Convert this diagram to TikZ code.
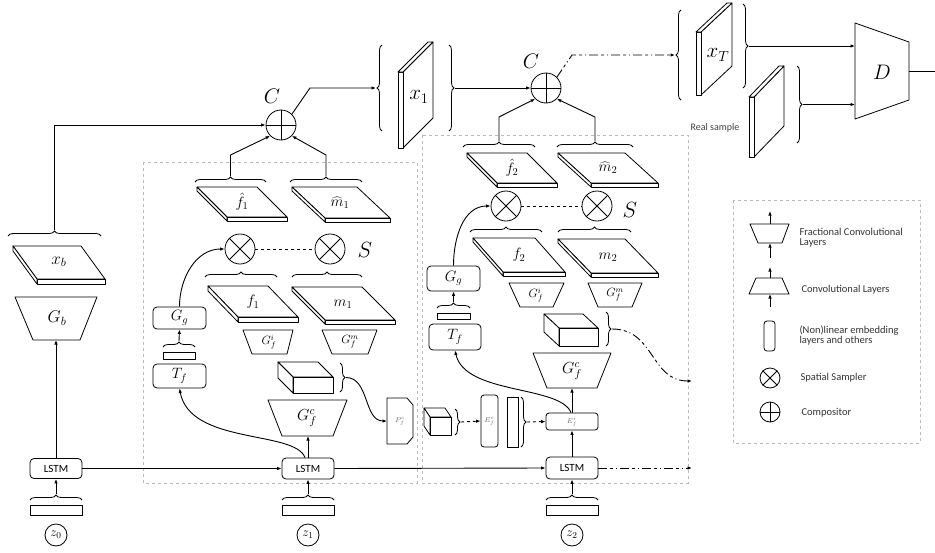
\RequirePackage{fix-cm}
\documentclass[tikz,border=0pt]{standalone}
\usepackage{fontspec}
\newfontfamily\carl{Carlito}
\usetikzlibrary{arrows.meta,decorations.pathreplacing,calc}
\newcommand{\fs}[1]{\fontsize{#1}{#1}\selectfont}
\newcommand{\slab}[6]{%
 \draw[shp] (#1,#2) -- ({#1+#3},#2) -- ({#1+#3+#4},{#2+#5}) -- ({#1+#4},{#2+#5}) -- cycle;
 \draw[shp] ({#1+#4},{#2+#5}) -- ({#1+#3+#4},{#2+#5}) -- ({#1+#3+#4},{#2+#5+#6}) -- ({#1+#4},{#2+#5+#6}) -- cycle;
 \draw[shp] (#1,#2) -- ({#1+#4},{#2+#5}) -- ({#1+#4},{#2+#5+#6}) -- (#1,{#2+#6}) -- cycle;}
\newcommand{\vslab}[6]{%
 \draw[shp] (#1,#3) -- (#2,#4) -- (#2,{#4+#5}) -- (#1,{#3+#5}) -- cycle;
 \draw[shp] ({#1-#6},#3) -- (#1,#3) -- (#1,{#3+#5}) -- ({#1-#6},{#3+#5}) -- cycle;
 \draw[shp] ({#1-#6},#3) -- ({#2-#6},#4) -- (#2,#4) -- (#1,#3) -- cycle;}
\newcommand{\cub}[6]{%
 \draw[shp] ({#1-#5},{#2-#6}) -- ({#1+#3-#5},{#2-#6}) -- ({#1+#3},#2) -- (#1,#2) -- cycle;
 \draw[shp] ({#1-#5},{#2-#6}) -- (#1,#2) -- (#1,{#2+#4}) -- ({#1-#5},{#2+#4-#6}) -- cycle;
 \draw[shp] (#1,#2) rectangle ({#1+#3},{#2+#4});}
\newcommand{\trap}[6]{\draw[shp] (#2,#1) -- (#3,#1) -- (#6,#4) -- (#5,#4) -- cycle;}
\newcommand{\hbr}[4]{\draw[brc] (#1,#3) -- (#2,#3); \coordinate (#4) at ({(#1+#2)/2},{#3-6});}
\newcommand{\rbr}[4]{\draw[brc] (#1,#2) -- (#1,#3); \coordinate (#4) at ({#1+6},{(#2+#3)/2});}
\newcommand{\lbr}[4]{\draw[brc] (#1,#3) -- (#1,#2); \coordinate (#4) at ({#1-6},{(#2+#3)/2});}
\tikzset{
 shp/.style={draw,fill=white,line width=0.8pt,line join=round},
 ln/.style={line width=0.9pt},
 arr/.style={ln,-{Latex[length=4.5pt,width=3.5pt]}},
 box/.style={draw,fill=white,rounded corners=4pt,line width=0.8pt,inner sep=0pt},
 panel/.style={draw=gray!55,dashed,line width=0.7pt},
 dd/.style={dash pattern=on 9pt off 3pt on 3pt off 3pt on 1pt off 3pt},
 brc/.style={decorate,decoration={brace,amplitude=5pt},line width=0.8pt},
 circ/.style={circle,draw,inner sep=0pt,line width=0.8pt},
 lg/.style={font=\carl\fs{10.5},text=black!80,anchor=west,align=left},
 sm/.style={font=\fs{7},text=black!60},
 lstm/.style={box,minimum width=52pt,font=\carl\fs{11}},
}
\begin{document}
\begin{tikzpicture}[x=1pt,y=-1pt]
\useasboundingbox (0,0) rectangle (935,552);
% panels
\draw[panel] (143,162) rectangle (417,483);
\draw[panel] (422,135) rectangle (688,483);
\draw[panel] (733,200) rectangle (920,443);

% ---------- left column ----------
\slab{13}{246}{68}{24}{33}{5}
\node[font=\fs{17}] (xbL) at (59,262) {$x_b$};
\hbr{8}{101}{236}{xbt}
\trap{297}{15}{97}{340}{33}{80}
\node[font=\fs{17}] (GbL) at (57,318) {$G_b$};
\coordinate (Gbs) at (56,340);
\node[lstm,minimum height=20pt] (L0) at (56,468.5) {LSTM};
\hbr{30}{82}{500}{z0t}
\draw[shp] (30,505) rectangle (82,515);
\node[circ,minimum size=22pt,font=\fs{13}] (z0) at (56,535) {$z_0$};

% ---------- top ----------
\node[circ,minimum size=30pt] (C1) at (281,125) {};
\draw[ln] (C1.north) -- (C1.south) (C1.west) -- (C1.east);
\node[font=\fs{21}] (C1L) at (272,96) {$C$};
\lbr{382}{45}{131}{x1l}
\rbr{449}{45}{131}{x1r}
\vslab{403}{433}{72}{42}{76}{5}
\node[font=\fs{21}] (x1L) at (419,97) {$x_1$};
\node[circ,minimum size=30pt] (C2) at (546,88) {};
\draw[ln] (C2.north) -- (C2.south) (C2.west) -- (C2.east);
\node[font=\fs{21}] (C2L) at (531,61) {$C$};
\lbr{681}{10}{100}{xTl}
\rbr{743}{4}{88}{xTr}
\vslab{701}{732}{32}{3}{63}{5}
\node[font=\fs{21}] (xTL) at (718,55) {$x_T$};
\vslab{754}{784}{97}{66}{60}{5}
\rbr{797}{66}{143}{rsr}
\node[font=\carl\fs{10},text=black!75] (rs) at (715,128) {Real sample};
\draw[shp] (855,23) -- (909,42) -- (909,100) -- (855,119) -- cycle;
\node[font=\fs{21}] (DL) at (882,72) {$D$};
\coordinate (Din1) at (855,46);
\coordinate (Din2) at (855,104.5);
\coordinate (Dout) at (909,71);
\coordinate (Dend) at (935,71);

% ---------- panel 1 ----------
\slab{197}{187}{60}{30}{30}{4}
\node[font=\fs{15}] (fh1) at (242,202) {$\hat{f}_1$};
\slab{292}{187}{65}{33}{31}{4}
\node[font=\fs{15}] (mh1) at (340,203) {$\widehat{m}_1$};
\hbr{195}{266}{182}{fh1t}
\hbr{290}{362}{182}{mh1t}
\node[circ,minimum size=30pt] (S1a) at (240,249) {};
\node[circ,minimum size=30pt] (S1b) at (330,249) {};
\draw[ln] (S1a.north west) -- (S1a.south east) (S1a.north east) -- (S1a.south west);
\draw[ln] (S1b.north west) -- (S1b.south east) (S1b.north east) -- (S1b.south west);
\node[font=\fs{22}] (S1L) at (365,250) {$S$};
\hbr{205}{277}{277}{f1t}
\hbr{292}{362}{277}{m1t}
\slab{208}{286}{60}{30}{31}{5}
\node[font=\fs{15}] (f1) at (253,302) {$f_1$};
\slab{292}{287}{70}{33}{33}{4}
\node[font=\fs{15}] (m1) at (343,304) {$m_1$};
\trap{330}{243}{293}{354}{252}{287}
\node[font=\fs{12}] (Gi1) at (269,342) {$G_f^i$};
\trap{330}{322}{377}{354}{332}{368}
\node[font=\fs{12}] (Gm1) at (350,342) {$G_f^m$};
\node[box,minimum width=53pt,minimum height=22pt,font=\fs{15}] (Gg1) at (179.5,318) {$G_g$};
\hbr{163}{195}{347}{bar1t}
\draw[shp] (163,352) rectangle (195,359);
\node[box,minimum width=53pt,minimum height=24pt,font=\fs{15}] (Tf1) at (179.5,376) {$T_f$};
\cub{293}{377}{40}{16}{15}{15}
\rbr{340}{363}{392}{cb1}
\trap{400}{268}{347}{436}{282}{333}
\node[font=\fs{16}] (Gc1) at (307,418) {$G_f^c$};
\coordinate (Gc1s) at (308,436);
\draw[shp] (387,398) -- (407,398) -- (413,405) -- (413,437) -- (407,444) -- (387,444) -- cycle;
\node[sm] (Pfc) at (400,421) {$P_f^c$};
\coordinate (Pw) at (387,421);
\node[lstm,minimum height=21pt] (L1) at (308,468.5) {LSTM};
\hbr{282}{334}{500}{z1t}
\draw[shp] (282,505) rectangle (334,515);
\node[circ,minimum size=22pt,font=\fs{13}] (z1) at (308,535) {$z_1$};

% ---------- panel 2 ----------
\slab{467}{153}{60}{30}{30}{4}
\node[font=\fs{15}] (fh2) at (512,168) {$\hat{f}_2$};
\slab{558}{153}{67}{33}{30}{4}
\node[font=\fs{15}] (mh2) at (608,168) {$\widehat{m}_2$};
\hbr{463}{535}{147}{fh2t}
\hbr{557}{633}{147}{mh2t}
\node[circ,minimum size=30pt] (S2a) at (506,206) {};
\node[circ,minimum size=30pt] (S2b) at (597,206) {};
\draw[ln] (S2a.north west) -- (S2a.south east) (S2a.north east) -- (S2a.south west);
\draw[ln] (S2b.north west) -- (S2b.south east) (S2b.north east) -- (S2b.south west);
\node[font=\fs{22}] (S2L) at (630,210) {$S$};
\hbr{470}{542}{232}{f2t}
\hbr{558}{631}{232}{m2t}
\slab{473}{238}{62}{30}{34}{4}
\node[font=\fs{15}] (f2) at (519,255) {$f_2$};
\slab{558}{239}{67}{33}{34}{4}
\node[font=\fs{15}] (m2) at (608,257) {$m_2$};
\trap{283}{509}{564}{307}{520}{553}
\node[font=\fs{12}] (Gi2) at (536,295) {$G_f^i$};
\trap{283}{588}{642}{307}{598}{632}
\node[font=\fs{12}] (Gm2) at (615,295) {$G_f^m$};
\node[box,minimum width=53pt,minimum height=25pt,font=\fs{15}] (Gg2) at (453.5,278.5) {$G_g$};
\hbr{437}{470}{308}{bar2t}
\draw[shp] (437,313) rectangle (470,319);
\node[box,minimum width=52pt,minimum height=26pt,font=\fs{15}] (Tf2) at (455,337) {$T_f$};
\cub{559}{328}{39}{18}{15}{14}
\rbr{606}{312}{346}{cb2}
\coordinate (cb2end) at (692,381);
\trap{353}{533}{611}{388}{547}{597}
\node[font=\fs{16}] (Gc2) at (572,371) {$G_f^c$};
\coordinate (Gc2s) at (572,388);
\cub{430}{417}{21}{18}{6}{9}
\rbr{455}{409}{435}{cb3}
\node[box,minimum width=17pt,minimum height=52pt,rounded corners=3pt,sm] (Efc) at (489.5,421) {$E_f^c$};
\node[draw,fill=white,line width=0.8pt,minimum width=11pt,minimum height=50pt,inner sep=0pt] (bar) at (512.5,422) {};
\rbr{521}{397}{447}{cb4}
\node[box,minimum width=52pt,minimum height=17pt,rounded corners=3pt,sm] (Efi) at (572,421.5) {$E_f^i$};
\node[lstm,minimum height=22pt] (L2) at (572,468) {LSTM};
\coordinate (L2end) at (692,468);
\hbr{546}{598}{500}{z2t}
\draw[shp] (546,505) rectangle (598,515);
\node[circ,minimum size=22pt,font=\fs{13}] (z2) at (572,535) {$z_2$};

% ---------- connectors ----------
\draw[arr] (xbt) |- (C1.west);
\draw[arr] (L0.north) -- (Gbs);
\draw[arr] (z0t) -- (L0.south);
\draw[arr] (z1t) -- (L1.south);
\draw[arr] (z2t) -- (L2.south);
\draw[arr] (L0.east) -- (L1.west);
\draw[arr] (L1.east) -- (L2.west);
\draw[arr,dd] (L2.east) -- (L2end);
\draw[arr] (C1.north east) -- (310,88) -- (x1l);
\draw[arr] (x1r) -- (C2.west);
\draw[arr,dd] (C2.north east) -- (572,55) -- (xTl);
\draw[arr] (xTr) -- (Din1);
\draw[arr] (rsr) -- (Din2);
\draw[ln] (Dout) -- (Dend);
\draw[arr] (fh1t) -- ++(0,-21) -- (C1.south west);
\draw[arr] (mh1t) -- ++(0,-21) -- (C1.south east);
\draw[arr] (fh2t) -- ++(0,-24) -- (C2.south west);
\draw[arr] (mh2t) -- ++(0,-24) -- (C2.south east);
\draw[ln,dashed] (S1a.east) -- (S1b.west);
\draw[ln,dashed] (S2a.east) -- (S2b.west);
\draw[arr] (Gg1.north) to[out=90,in=180] (S1a.west);
\draw[arr] (Gg2.north) to[out=90,in=180] (S2a.west);
\draw[arr] (bar1t) -- (Gg1.south);
\draw[arr] (bar2t) -- (Gg2.south);
\draw[arr] (L1.north) -- (Gc1s);
\draw[arr] ([xshift=-3pt]L1.north) .. controls (295,430) and (190,445) .. (Tf1.south);
\draw[arr] (cb1) to[out=0,in=180] (Pw);
\draw[arr] (L2.north) -- (Efi.south);
\draw[arr] (Efi.north) -- (Gc2s);
\draw[arr] ([xshift=-1pt]Efi.north) .. controls (560,385) and (465,395) .. (Tf2.south);
\draw[arr,dashed] (cb3) -- (Efc.west);
\draw[arr,dashed] (cb4) -- (Efi.west);
\draw[arr,dd] (cb2) .. controls (655,329) and (650,381) .. (cb2end);

% ---------- legend ----------
\trap{224}{750}{789}{243}{758}{782}
\coordinate (lg1t) at (770,224); \coordinate (lg1tt) at (770,211);
\coordinate (lg1b) at (770,243); \coordinate (lg1bb) at (770,258);
\draw[arr] (lg1t) -- (lg1tt);
\draw[arr] (lg1bb) -- (lg1b);
\node[lg] (lgt1) at (796,237.5) {Fractional Convolutional\\[-1pt]Layers};
\trap{278}{756}{782}{294}{749}{789}
\coordinate (lg2t) at (770,278); \coordinate (lg2tt) at (770,267);
\coordinate (lg2b) at (770,294); \coordinate (lg2bb) at (770,307);
\draw[arr] (lg2t) -- (lg2tt);
\draw[arr] (lg2bb) -- (lg2b);
\node[lg] (lgt2) at (798,290) {Convolutional Layers};
\node[box,minimum width=11pt,minimum height=30pt,rounded corners=3pt] (lgE) at (769.5,336) {};
\node[lg] (lgt3) at (796,335.5) {(Non)linear embedding\\[-1pt]layers and others};
\node[circ,minimum size=20pt] (lgS) at (770,378) {};
\draw[ln] (lgS.north west) -- (lgS.south east) (lgS.north east) -- (lgS.south west);
\node[lg] (lgt4) at (797,378) {Spatial Sampler};
\node[circ,minimum size=20pt] (lgC) at (770,412) {};
\draw[ln] (lgC.north) -- (lgC.south) (lgC.west) -- (lgC.east);
\node[lg] (lgt5) at (798,413) {Compositor};
\end{tikzpicture}
\end{document}
